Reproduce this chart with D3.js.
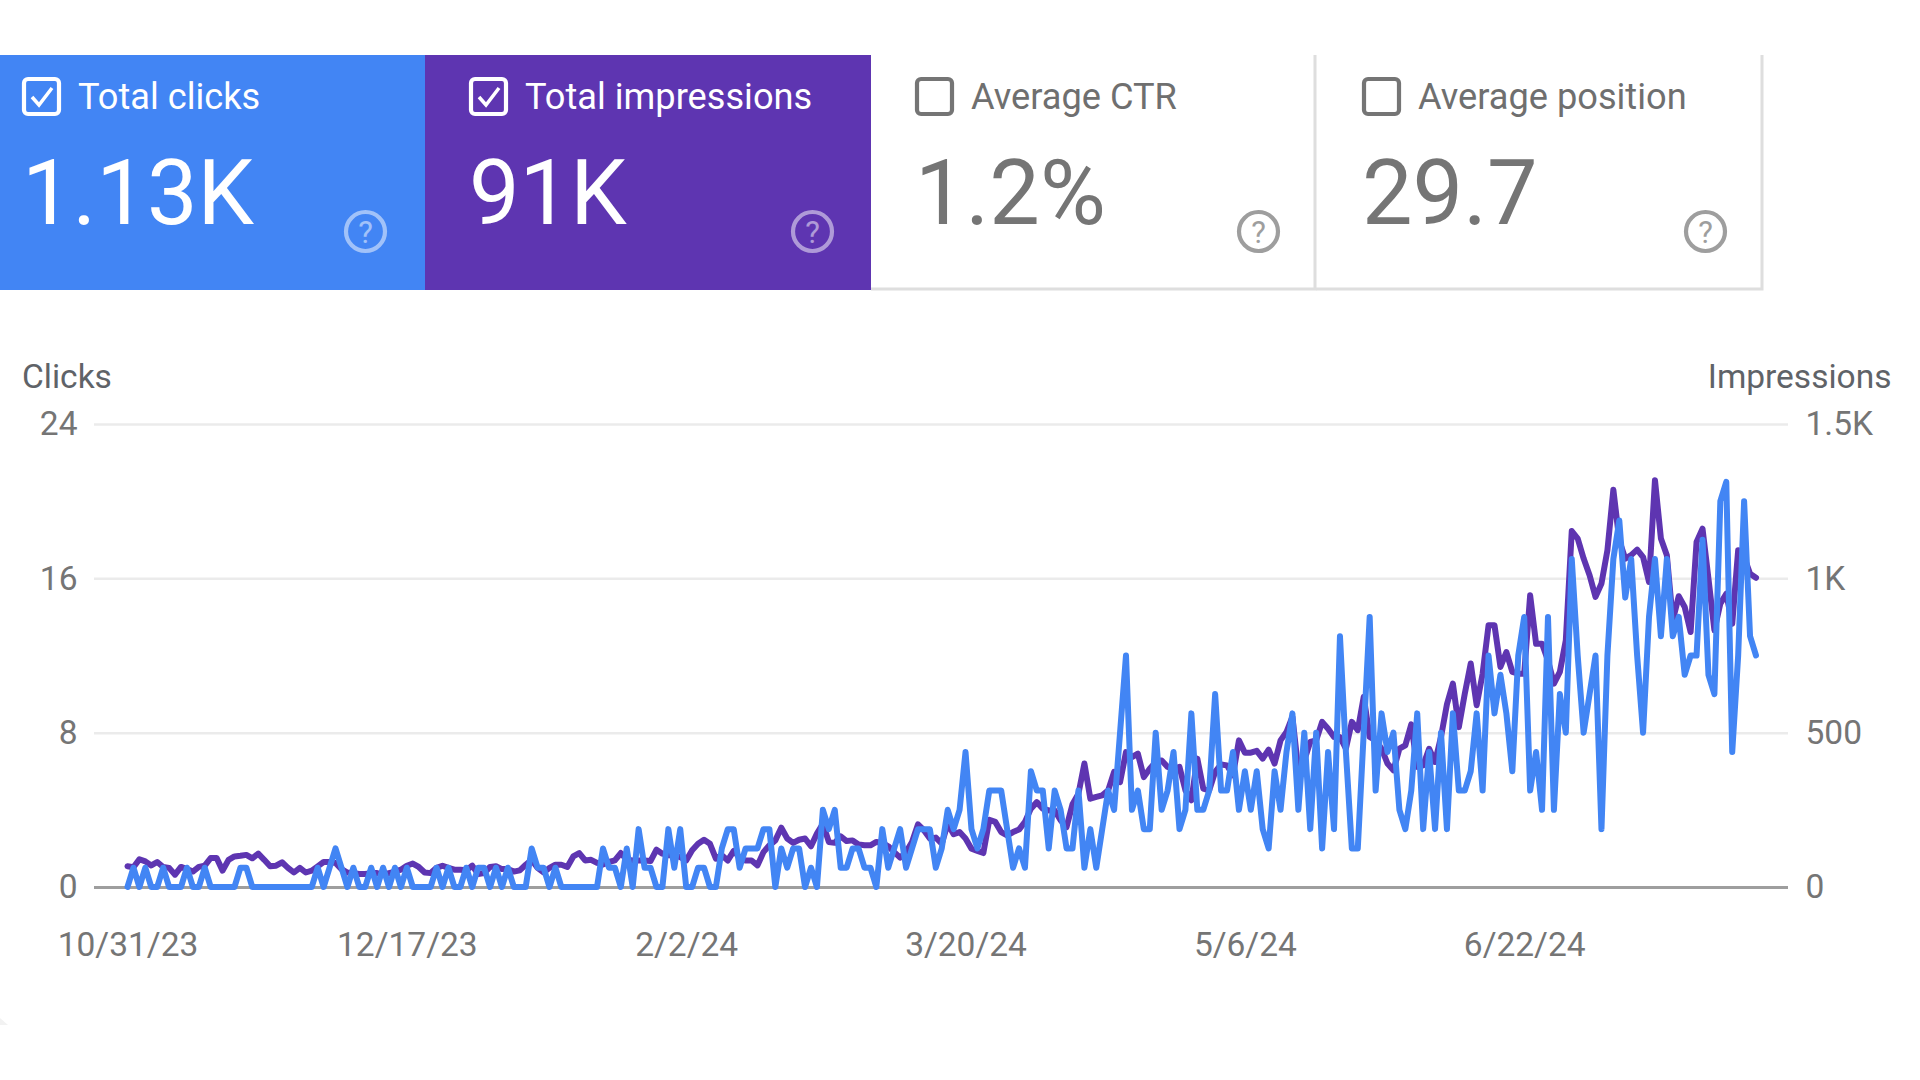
<!DOCTYPE html>
<html><head><meta charset="utf-8">
<script src="https://cdn.jsdelivr.net/npm/d3@7"></script>
<style>
html,body{margin:0;padding:0;background:#fff;width:1920px;height:1080px;overflow:hidden}
svg{display:block;font-family:Roboto,sans-serif}
</style></head><body>
<svg id="c" width="1920" height="1080"></svg>
<script>
const clicks=[0,1,0,1,0,0,1,0,0,0,1,0,0,1,0,0,0,0,0,1,1,0,0,0,0,0,0,0,0,0,0,0,1,0,1,2,1,0,1,0,0,1,0,1,0,1,0,1,0,0,0,0,1,0,1,0,0,1,0,1,1,0,1,0,1,0,0,0,2,1,1,0,1,0,0,0,0,0,0,0,
2,1,1,0,2,0,3,1,1,0,0,3,1,3,0,0,1,1,0,0,2,3,3,1,2,2,2,3,3,0,2,1,2,2,0,1,0,4,3,4,1,1,2,2,1,1,0,3,1,2,3,1,2,3,3,3,1,2,4,3,4,7,3,2,3,5,5,5,3,1,2,1,6,5,5,2,5,
4,2,2,5,1,3,1,3,5,4,8,12,4,5,3,3,8,4,5,7,3,4,9,4,4,5,10,5,5,7,4,6,4,6,3,2,6,4,7,9,4,8,3,8,2,7,3,13,7,2,2,8,14,5,9,7,8,4,3,5,9,3,7,3,
8,3,9,5,5,6,9,5,12,9,11,9,6,12,14,5,7,4,14,4,10,8,17,12,8,10,12,3,12,17,19,15,17,12,8,14,17,13,17,13,14,11,12,12,18,11,10,20,21,7,12,20,13,12];
const impressions=[67,64,90,83,70,81,65,62,40,65,58,50,65,69,94,94,53,88,99,101,104,93,108,88,67,69,80,62,47,62,47,53,67,81,81,78,58,47,45,42,42,45,45,40,45,50,56,69,76,65,47,45,62,69,62,56,56,54,69,42,45,65,67,58,58,50,54,72,88,62,47,62,72,72,65,99,110,86,88,78,
73,81,86,110,88,86,86,86,84,121,108,103,103,97,86,119,140,153,140,92,103,86,117,95,86,86,70,113,135,151,192,157,143,153,157,132,173,205,146,143,164,149,151,138,135,135,146,143,132,113,95,113,146,203,184,157,160,140,205,171,178,157,124,117,110,218,211,178,167,178,186,211,254,275,254,248,248,
216,194,268,302,400,286,292,297,313,373,340,437,421,432,356,383,405,410,389,383,389,313,281,416,319,313,373,397,394,362,475,435,435,441,416,445,400,475,502,551,378,410,470,475,535,513,486,486,448,535,508,616,486,475,448,400,378,448,459,527,389,394,448,405,
486,592,659,518,626,724,589,691,848,848,713,761,697,691,691,945,788,788,734,659,697,799,1153,1129,1064,1010,940,983,1091,1287,1123,1064,1075,1093,1069,988,1318,1129,1075,864,942,907,826,1118,1161,999,832,918,950,853,1091,1069,1015,1002];
const tickLabels=["10/31/23","12/17/23","2/2/24","3/20/24","5/6/24","6/22/24"];
const clickTicks=[0,8,16,24];
const impressionTicks=[0,500,1000,1500];
const impressionTickLabels=["0","500","1K","1.5K"];
const cardTitles=["Total clicks","Total impressions","Average CTR","Average position"];
const cardValues=["1.13K","91K","1.2%","29.7"];
const cardSelected=[true,true,false,false];
const cardColors=["#4285f4","#5e35b1",null,null];

const svg=d3.select("#c");
const grey="#5f6368", valGrey="#757575";

// ---- cards
const cardEdges=[0,425,871,1316,1763];
const contentOrigins=[0,447,893,1340];
const cardTop=55,cardBot=290;
const cards=svg.append("g").selectAll("g").data(cardTitles).join("g");
cards.each(function(d,i){
  const g=d3.select(this), w=cardEdges[i+1]-cardEdges[i], h=cardBot-cardTop, on=cardSelected[i];
  const fg=on?"#fff":"#757575";
  const bg=g.append("g").attr("transform",`translate(${cardEdges[i]},${cardTop})`);
  if(on){ bg.append("rect").attr("width",w).attr("height",h).attr("fill",cardColors[i]); }
  else { bg.append("path").attr("d",`M0,${h-1}H${w-1}V0`).attr("fill","none").attr("stroke","#dedede").attr("stroke-width",3); }
  const c=g.append("g").attr("transform",`translate(${contentOrigins[i]},${cardTop})`);
  c.append("rect").attr("x",24).attr("y",24).attr("width",35).attr("height",35).attr("rx",4)
    .attr("fill","none").attr("stroke",fg).attr("stroke-width",4.2);
  if(on) c.append("path").attr("d","M32,42L39,50L52,33").attr("fill","none").attr("stroke",fg).attr("stroke-width",3.5);
  c.append("text").attr("x",78).attr("y",54).attr("font-size",36.2).attr("fill",on?"#fff":"#6f6f6f").text(d);
  c.append("text").attr("x",22).attr("y",169).attr("font-size",90).attr("fill",on?"#fff":valGrey).text(cardValues[i]);
  const hx=365.5,hy=176.5;
  const hg=c.append("g").attr("opacity",on?0.5:1);
  hg.append("circle").attr("cx",hx).attr("cy",hy).attr("r",19.5).attr("fill","none").attr("stroke",on?"#fff":"#9e9e9e").attr("stroke-width",4.2);
  hg.append("text").attr("x",hx).attr("y",hy+11).attr("text-anchor","middle").attr("font-size",31).attr("fill",on?"#fff":"#9e9e9e").text("?");
});

// ---- chart
const x0=94,x1=1788,yTop=424,yBot=887;
const parse=d3.utcParse("%m/%d/%y");
const start=parse(tickLabels[0]);
const dates=clicks.map((_,i)=>d3.utcDay.offset(start,i));
const x=d3.scaleUtc().domain([start,dates[dates.length-1]]).range([127.5,1756]);
const yC=d3.scaleLinear().domain([0,24]).range([yBot,yTop]);
const yI=d3.scaleLinear().domain([0,1500]).range([yBot,yTop]);

const axL=svg.append("g").attr("transform",`translate(${x0},0)`)
  .call(d3.axisLeft(yC).tickValues(clickTicks).tickSize(x0-x1).tickPadding(16.5).tickFormat(d3.format("d")));
axL.select(".domain").remove();
axL.selectAll("line").attr("stroke",d=>d===0?"#9e9e9e":"#ebebeb").attr("stroke-width",d=>d===0?3:2.5);
axL.selectAll("text").attr("font-size",33.5).attr("font-family","Roboto").attr("fill",valGrey);

const axR=svg.append("g").attr("transform",`translate(${x1},0)`)
  .call(d3.axisRight(yI).tickValues(impressionTicks).tickSize(0).tickPadding(17.5)
    .tickFormat((d,i)=>impressionTickLabels[i]));
axR.select(".domain").remove();
axR.selectAll("text").attr("font-size",33.5).attr("font-family","Roboto").attr("fill",valGrey);

const axB=svg.append("g").attr("transform",`translate(0,${yBot})`)
  .call(d3.axisBottom(x).tickValues(tickLabels.map(parse)).tickSize(0).tickPadding(45)
    .tickFormat((d,i)=>tickLabels[i]));
axB.select(".domain").remove();
axB.selectAll("text").attr("font-size",33.5).attr("font-family","Roboto").attr("fill",valGrey);

svg.append("text").attr("x",22).attr("y",388).attr("font-size",33.5).attr("fill",grey).text("Clicks");
svg.append("text").attr("x",1891.5).attr("y",388).attr("text-anchor","end").attr("font-size",33.5).attr("fill",grey).text("Impressions");

const lineI=d3.line().x((d,i)=>x(dates[i])).y(d=>yI(d));
const lineC=d3.line().x((d,i)=>x(dates[i])).y(d=>yC(d));
svg.append("path").datum(impressions).attr("d",lineI).attr("fill","none").attr("stroke","#5e35b1").attr("stroke-width",6).attr("stroke-linejoin","round").attr("stroke-linecap","round");
svg.append("path").datum(clicks).attr("d",lineC).attr("fill","none").attr("stroke","#4285f4").attr("stroke-width",6).attr("stroke-linejoin","round").attr("stroke-linecap","round");

svg.append("path").attr("d","M0,1018L8,1025H0Z").attr("fill","#f2f2f2");
</script>
</body></html>
